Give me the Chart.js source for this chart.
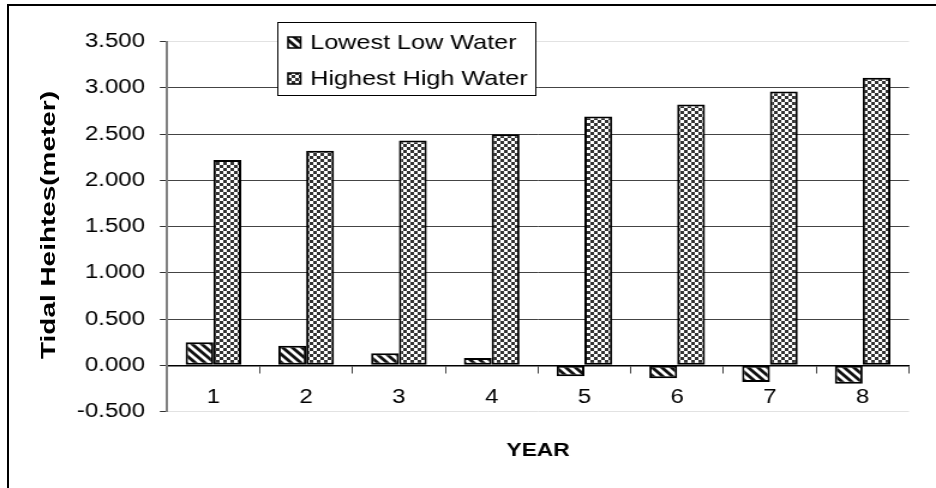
<!DOCTYPE html>
<html>
<head>
<meta charset="utf-8">
<script src="https://cdn.jsdelivr.net/npm/chart.js@4/dist/chart.umd.min.js"></script>
<style>
  html, body { margin: 0; padding: 0; background: #fff; }
  #page { position: relative; width: 936px; height: 488px; overflow: hidden; background: #fff; }
  #frame { position: absolute; left: 7px; top: 4px; right: -4px; bottom: -4px;
           border-left: 2px solid #000; border-top: 2px solid #000; pointer-events: none; }
  /* the chart is laid out narrow and widened, giving the wide lettering of the printed figure */
  #wrap { position: absolute; left: 0; top: 0; width: 780px; height: 488px;
          transform: scaleX(1.2); transform-origin: 0 0; }
  /* vertical axis title, set tall and narrow */
  #ytitle { position: absolute; left: 47px; top: 225px; white-space: nowrap;
            font: bold 21px Arial, "Liberation Sans", Helvetica, sans-serif; color: #000;
            line-height: 1; transform: translate(-50%, -50%) rotate(-90deg) scaleX(1.33); }
</style>
</head>
<body>
<div id="page">
  <div id="wrap"><canvas id="chart" width="780" height="488"></canvas></div>
  <div id="ytitle"></div>
  <div id="frame"></div>
</div>
<script>
// Tidal heights per year (meters)
const years = ['1', '2', '3', '4', '5', '6', '7', '8'];
const lowestLowWater = [0.25, 0.21, 0.13, 0.08, -0.12, -0.14, -0.18, -0.20];
const highestHighWater = [2.22, 2.32, 2.43, 2.50, 2.69, 2.82, 2.96, 3.11];
const seriesNames = ['Lowest Low Water', 'Highest High Water'];
const yTickValues = [-0.5, 0, 0.5, 1, 1.5, 2, 2.5, 3, 3.5];
const xAxisTitle = 'YEAR';
const yAxisTitle = 'Tidal Heihtes(meter)';

const FONT = 'Arial, "Liberation Sans", Helvetica, sans-serif';

document.getElementById('ytitle').textContent = yAxisTitle;

// Diagonal hatch: black strokes running top-left to bottom-right
function hatchPattern(ctx) {
  const p = 8;
  const c = document.createElement('canvas');
  c.width = p; c.height = p;
  const g = c.getContext('2d');
  g.fillStyle = '#fff';
  g.fillRect(0, 0, p, p);
  g.strokeStyle = '#111';
  g.lineWidth = 2.8;
  g.lineCap = 'square';
  [-p, 0, p].forEach(k => {
    g.beginPath();
    g.moveTo(-2, -2 + k);
    g.lineTo(p + 2, p + 2 + k);
    g.stroke();
  });
  return ctx.createPattern(c, 'repeat');
}

// Small checkerboard fill
function checkerPattern(ctx) {
  const s = 3;
  const c = document.createElement('canvas');
  c.width = s * 2; c.height = s * 2;
  const g = c.getContext('2d');
  g.fillStyle = '#fff';
  g.fillRect(0, 0, s * 2, s * 2);
  g.fillStyle = '#333';
  g.fillRect(0, 0, s, s);
  g.fillRect(s, s, s, s);
  return ctx.createPattern(c, 'repeat');
}

const canvas = document.getElementById('chart');
const ctx0 = canvas.getContext('2d');
const fills = [hatchPattern(ctx0), checkerPattern(ctx0)];

// Legend box drawn over the top of the plot area
const boxLegend = {
  id: 'boxLegend',
  afterDraw(chart) {
    const ctx = chart.ctx;
    const x = 231.5, y = 22.5, w = 215, h = 73;
    ctx.save();
    ctx.fillStyle = '#fff';
    ctx.fillRect(x, y, w, h);
    ctx.strokeStyle = '#000';
    ctx.lineWidth = 1;
    ctx.strokeRect(x, y, w, h);
    ctx.font = '21px ' + FONT;
    ctx.textBaseline = 'middle';
    ctx.textAlign = 'left';
    chart.data.datasets.forEach((ds, i) => {
      const cy = i === 0 ? 42.5 : 78.5;
      ctx.fillStyle = ds.backgroundColor;
      ctx.fillRect(240, cy - 5.5, 10.5, 11);
      ctx.strokeStyle = '#000';
      ctx.lineWidth = 1.5;
      ctx.strokeRect(240, cy - 5.5, 10.5, 11);
      ctx.fillStyle = '#000';
      ctx.fillText(ds.label, 258.5, cy + 1);
    });
    ctx.restore();
  }
};

new Chart(canvas, {
  type: 'bar',
  data: {
    labels: years,
    datasets: [
      { label: seriesNames[0], data: lowestLowWater, backgroundColor: fills[0],
        borderColor: '#000', borderWidth: 2, borderSkipped: false },
      { label: seriesNames[1], data: highestHighWater, backgroundColor: fills[1],
        borderColor: '#000', borderWidth: 2, borderSkipped: false }
    ]
  },
  options: {
    responsive: false,
    animation: false,
    devicePixelRatio: 1,
    categoryPercentage: 0.6,
    barPercentage: 1.0,
    layout: { padding: { left: 10, right: 22.5, top: 41.7, bottom: 0 } },
    plugins: { legend: { display: false }, tooltip: { enabled: false } },
    scales: {
      x: {
        type: 'category',
        position: { y: 0 },
        offset: true,
        grid: { display: true, drawOnChartArea: false, drawTicks: true, tickLength: 7,
                color: '#444', lineWidth: 1, offset: true },
        border: { display: true, color: '#000', width: 1.5 },
        ticks: { color: '#000', font: { family: FONT, size: 20 }, padding: 13, maxRotation: 0 }
      },
      xTitle: {
        type: 'category',
        position: 'bottom',
        grid: { display: false },
        border: { display: false },
        ticks: { display: false },
        title: { display: true, text: xAxisTitle, color: '#000',
                 font: { family: FONT, size: 19, weight: 'bold' },
                 padding: { top: 0, bottom: 25.6 } },
        afterFit(scale) { scale.height = 76.5; }
      },
      y: {
        position: 'left',
        min: -0.5,
        max: 3.5,
        afterBuildTicks(scale) { scale.ticks = yTickValues.map(v => ({ value: v })); },
        ticks: { color: '#000', font: { family: FONT, size: 20 }, padding: 12.4,
                 callback: v => Number(v).toFixed(3) },
        grid: {
          color: c => (c.tick && (c.tick.value === 3.5 || c.tick.value === -0.5)) ? '#e2e2e2' : '#444',
          lineWidth: 1,
          tickLength: 6,
          tickColor: '#333'
        },
        border: { display: true, color: '#808080', width: 2 },
        afterFit(scale) { scale.width = 129.2; }
      }
    }
  },
  plugins: [boxLegend]
});
</script>
</body>
</html>
